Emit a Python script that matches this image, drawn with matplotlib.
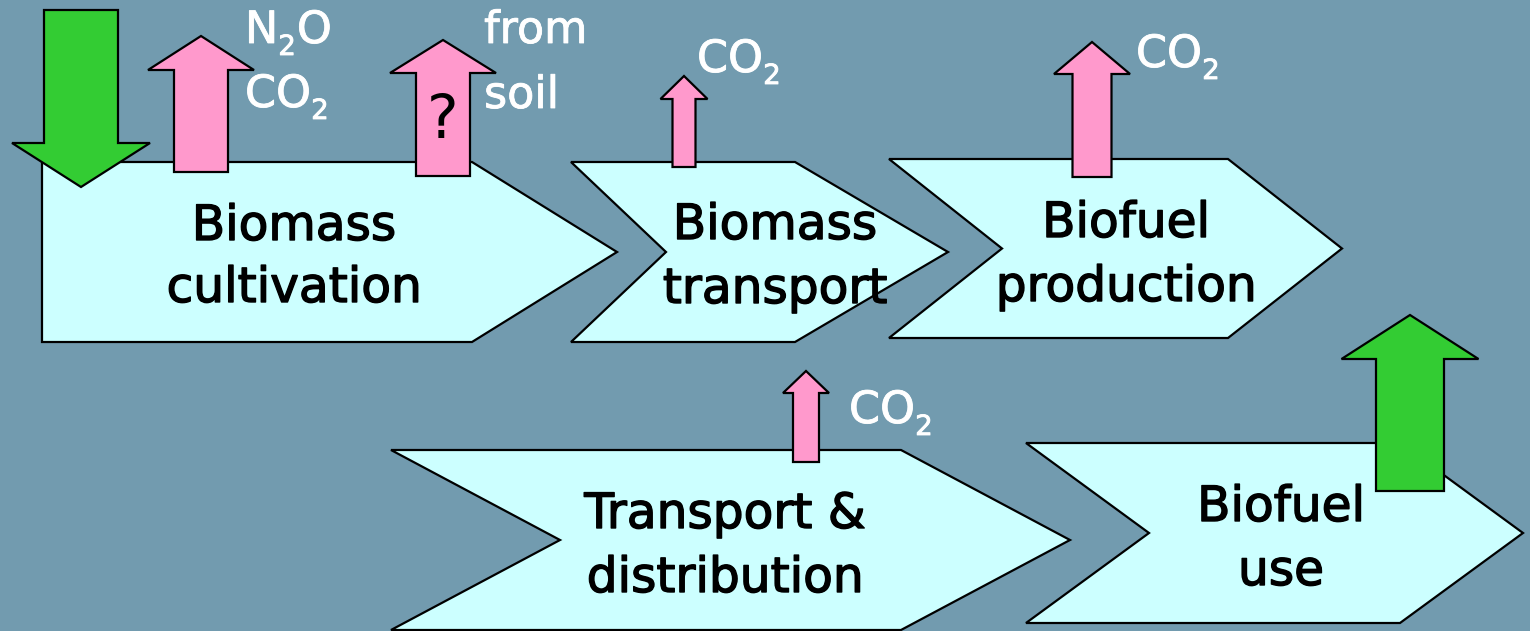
import matplotlib
matplotlib.use("Agg")
import matplotlib.pyplot as plt
from matplotlib.patches import Polygon
import matplotlib.patheffects as pe

plt.rcParams['font.family'] = ['DejaVu Sans']

# ---- content ----
stage_labels = [["Biomass", "cultivation"], ["Biomass", "transport"], ["Biofuel", "production"],
                ["Transport &", "distribution"], ["Biofuel", "use"]]
# "_x" marks a subscript character
gas_labels = [["N_2O", "CO_2"], ["from", "soil"], ["CO_2"], ["CO_2"], ["CO_2"]]
question_label = "?"

# ---- geometry (pixels, y downward) ----
# chevron: (x_left, x_notch, x_shoulder, x_tip, y_top, y_bottom)
chevrons = [
    (42, 42, 472, 617, 162, 342),
    (571, 666, 795, 948, 162, 342),
    (889, 1002, 1228, 1342, 159, 338),
    (391, 560, 901, 1070, 450, 630),
    (1026, 1149, 1400, 1523, 443, 623),
]
# (x_center, [baselines])
stage_text_pos = [(294, [240, 302]), (775, [239, 303]), (1126, [237, 301]),
                  (725, [528, 592]), (1281, [521, 585])]

# arrows: (x_center, shaft_half, head_half, y_base, y_headbase, y_tip, color)
PINK = "#FF99CC"
GREEN = "#33CC33"
arrows = [
    (81, 37, 69, 10, 143, 187, GREEN),      # down arrow
    (201, 27, 53, 172, 70, 36, PINK),
    (443, 27, 53, 176, 73, 40, PINK),
    (684, 11.5, 23.5, 167, 99, 76, PINK),
    (1092, 19.5, 38, 177, 74, 42, PINK),
    (806, 13, 23, 462, 393, 371, PINK),
    (1410, 34, 68.5, 491, 359, 315, GREEN),
]
# (x_left, [baselines])
gas_text_pos = [(245, [43, 107]), (484, [43, 108]), (697, [72]), (1136, [67]), (849, [423])]

W, H = 1530, 631
BG = "#729BAF"
fig = plt.figure(figsize=(W / 100, H / 100), dpi=100)
fig.patch.set_facecolor(BG)
ax = fig.add_axes([0, 0, 1, 1])
ax.set_xlim(0, W)
ax.set_ylim(H, 0)
ax.axis("off")
ax.set_facecolor(BG)
renderer = fig.canvas.get_renderer()

for (xl, xn, xs, xt, yt, yb) in chevrons:
    ym = (yt + yb) / 2
    pts = [(xl, yt), (xs, yt), (xt, ym), (xs, yb), (xl, yb), (xn, ym)]
    ax.add_patch(Polygon(pts, closed=True, facecolor="#CCFFFF", edgecolor="black",
                         linewidth=1.6, zorder=1, joinstyle='miter'))

for (xc, sh, hh, yb, yh, ytip, col) in arrows:
    pts = [(xc - sh, yb), (xc - sh, yh), (xc - hh, yh), (xc, ytip),
           (xc + hh, yh), (xc + sh, yh), (xc + sh, yb)]
    ax.add_patch(Polygon(pts, closed=True, facecolor=col, edgecolor="black",
                         linewidth=1.6, zorder=2, joinstyle='miter'))

black_fx = [pe.withStroke(linewidth=1.0, foreground="black")]
white_fx = [pe.withStroke(linewidth=0.6, foreground="white")]

for lines, (x, ys) in zip(stage_labels, stage_text_pos):
    for line, y in zip(lines, ys):
        ax.text(x, y, line, ha="center", va="baseline", fontsize=35, color="black",
                zorder=3, path_effects=black_fx)


def segments(s):
    out, i = [], 0
    while i < len(s):
        if s[i] == "_" and i + 1 < len(s):
            out.append((s[i + 1], True))
            i += 2
        else:
            j = i
            while j < len(s) and s[j] != "_":
                j += 1
            out.append((s[i:j], False))
            i = j
    return out


for lines, (x0, ys) in zip(gas_labels, gas_text_pos):
    for line, y in zip(lines, ys):
        x = x0
        for seg, sub in segments(line):
            t = ax.text(x, y + (12 if sub else 0), seg, ha="left", va="baseline",
                        fontsize=20 if sub else 32, color="white", zorder=3,
                        path_effects=white_fx)
            x += t.get_window_extent(renderer).width + (1 if sub else 0)

ax.text(443, 138, question_label, ha="center", va="baseline", fontsize=43,
        color="black", zorder=3)

fig.savefig("out.png", dpi=100, facecolor=fig.get_facecolor())
